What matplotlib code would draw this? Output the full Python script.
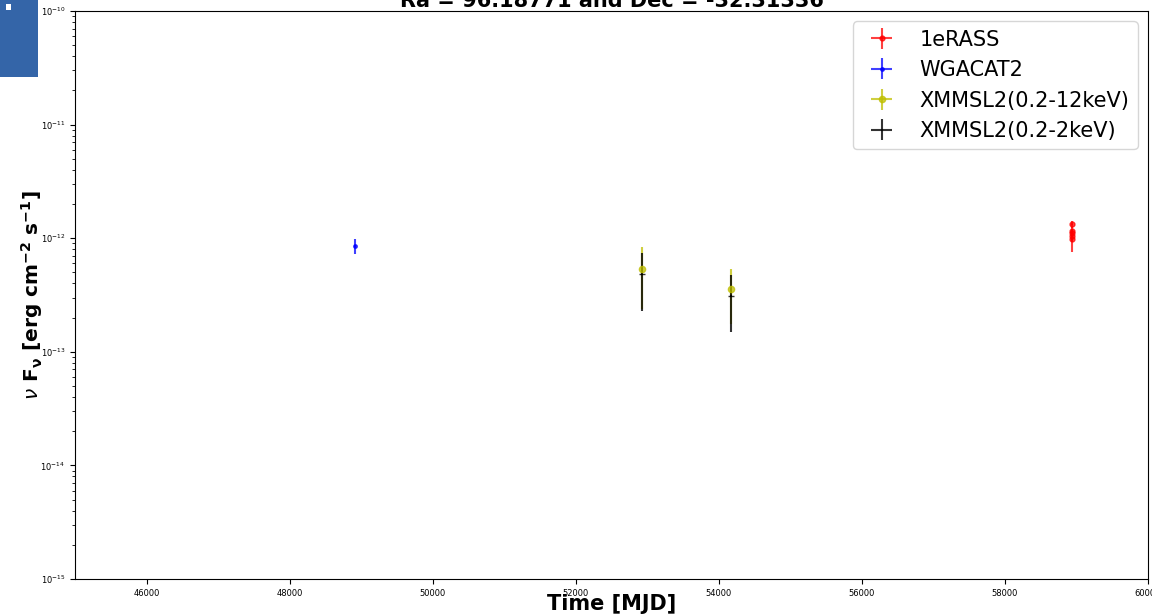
import matplotlib
matplotlib.use("Agg")
import matplotlib.pyplot as plt
from matplotlib.patches import Rectangle

# ---- data ----
erass_t = [58938, 58940, 58941, 58942, 58943]
erass_f = [1.33e-12, 1.15e-12, 1.05e-12, 0.98e-12, 1.10e-12]
erass_e = [0.10e-12, 0.10e-12, 0.12e-12, 0.22e-12, 0.08e-12]

wga_t = [48914]
wga_f = [8.6e-13]
wga_e = [1.3e-13]

xmm12_t = [52930, 54170]
xmm12_f = [5.35e-13, 3.55e-13]
xmm12_e = [2.95e-13, 1.80e-13]

xmm2_t = [52930, 54170]
xmm2_f = [4.85e-13, 3.10e-13]
xmm2_e = [2.58e-13, 1.60e-13]

t_err = 15

title = "Ra = 96.18771 and Dec = -32.31336"

fig = plt.figure(figsize=(11.52, 6.15), dpi=100)
ax = fig.add_axes([75/1152, 1-579/615, (1148-75)/1152, (579-11)/615])

ax.errorbar(erass_t, erass_f, yerr=erass_e, xerr=t_err, fmt='o', color='r', ms=3.5, alpha=0.75, label='1eRASS')
ax.errorbar(wga_t, wga_f, yerr=wga_e, xerr=t_err, fmt='o', color='b', ms=2.5, alpha=0.75, label='WGACAT2')
ax.errorbar(xmm12_t, xmm12_f, yerr=xmm12_e, xerr=t_err, fmt='o', color='y', ms=4.5, alpha=0.75, label='XMMSL2(0.2-12keV)')
ax.errorbar(xmm2_t, xmm2_f, yerr=xmm2_e, xerr=t_err, fmt='none', ecolor='k', alpha=0.8, label='XMMSL2(0.2-2keV)')
ax.plot(xmm2_t, xmm2_f, '_', color='k', ms=5, alpha=0.8)

ax.set_yscale('log')
ax.set_xlim(45000, 60000)
ax.set_ylim(1e-15, 1e-10)
ax.tick_params(labelsize=6)
ax.set_xlabel('Time [MJD]', fontsize=15, fontweight='bold', labelpad=-3)
ax.set_ylabel(r'$\nu$ $\mathbf{F_\nu}$ [erg cm$^{\mathbf{-2}}$ s$^{\mathbf{-1}}$]', fontsize=14.5, fontweight='bold', labelpad=-3)
ax.set_title(title, fontsize=15, fontweight='bold', pad=3)
ax.legend(loc='upper right', fontsize=15)

fig.patches.append(Rectangle((0, 1-77/615), 38/1152, 77/615, transform=fig.transFigure,
                             facecolor='#3465a8', edgecolor='none', zorder=10))
fig.patches.append(Rectangle((6/1152, 1-10/615), 5/1152, 6/615, transform=fig.transFigure,
                             facecolor='white', edgecolor='none', zorder=11))

fig.savefig('out.png', dpi=100)
